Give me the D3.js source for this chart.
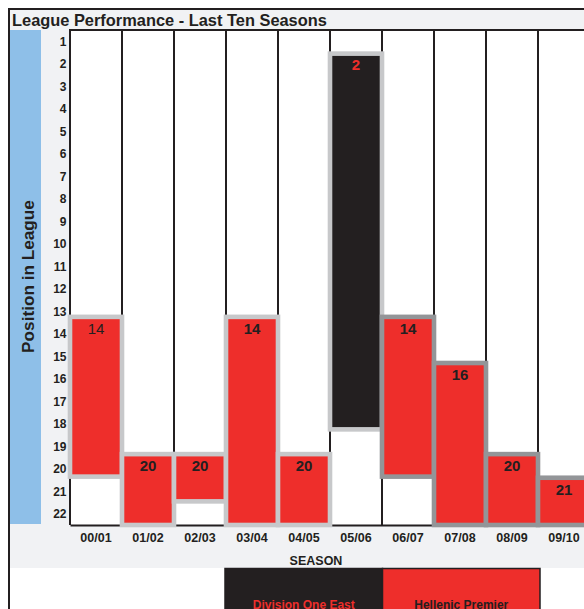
<!DOCTYPE html>
<html>
<head>
<meta charset="utf-8">
<script src="https://cdn.jsdelivr.net/npm/d3@7"></script>
<style>
  html, body { margin: 0; padding: 0; background: #fff; overflow: hidden; }
  svg { display: block; font-family: "Liberation Sans", Arial, sans-serif; }
</style>
</head>
<body>
<svg id="chart" width="584" height="609"></svg>
<script>
// data
const seasons = ["00/01", "01/02", "02/03", "03/04", "04/05", "05/06", "06/07", "07/08", "08/09", "09/10"];
const positions = [14, 20, 20, 14, 20, 2, 14, 16, 20, 21];
const divisions = ["Hellenic Premier", "Hellenic Premier", "Hellenic Premier", "Hellenic Premier", "Hellenic Premier",
  "Division One East", "Hellenic Premier", "Hellenic Premier", "Hellenic Premier", "Hellenic Premier"];
// bar extents, in league position units
const barTops = [13.25, 19.35, 19.35, 13.25, 19.35, 1.55, 13.25, 15.3, 19.35, 20.4];
const barBottoms = [20.35, 22.5, 21.45, 22.5, 22.5, 18.25, 20.35, 22.5, 22.5, 22.5];
const positionTicks = [1, 2, 3, 4, 5, 6, 7, 8, 9, 10, 11, 12, 13, 14, 15, 16, 17, 18, 19, 20, 21, 22];
const legendLabels = ["Division One East", "Hellenic Premier"];

const RED = "#ee2e2b", INK = "#231f20", PANEL = "#f1f2f4";

let svg = d3.select("#chart");
let width = +svg.attr("width");
let height = +svg.attr("height");
let plot = { left: 70, top: 30, right: 590, bottom: 525 };

let data = seasons.map((s, i) => ({
  season: s, position: positions[i], division: divisions[i],
  top: barTops[i], bottom: barBottoms[i], i: i
}));

let x = d3.scaleBand().domain(seasons).range([plot.left, plot.right]).padding(0);
let y = d3.scaleLinear().domain([0.5, 22.5]).range([plot.top, plot.bottom]);
let fill = d3.scaleOrdinal().domain(legendLabels).range([INK, RED]);
let labelFill = d3.scaleOrdinal().domain(legendLabels).range([RED, INK]);

// background panels
svg.append("rect").attr("x", 9).attr("y", 9).attr("width", width).attr("height", 559)
  .attr("fill", PANEL);
svg.append("rect").attr("x", 10).attr("y", plot.top).attr("width", 31).attr("height", 494)
  .attr("fill", "#8ebfe8");
svg.append("rect").attr("x", plot.left).attr("y", plot.top)
  .attr("width", width - plot.left).attr("height", plot.bottom - plot.top)
  .attr("fill", "#fff");

// outer frame
svg.append("path")
  .attr("d", `M9,${height + 5}V9H${width + 5}`)
  .attr("fill", "none").attr("stroke", INK).attr("stroke-width", 2);

svg.append("text")
  .attr("x", 12).attr("y", 26)
  .attr("font-size", 16.4).attr("font-weight", "bold").attr("fill", INK)
  .text("League Performance - Last Ten Seasons");

// column lines
let edges = seasons.map(s => x(s)).concat([plot.right]);
svg.append("g").selectAll("line")
  .data(edges)
  .enter().append("line")
    .attr("x1", d => d).attr("x2", d => d)
    .attr("y1", plot.top).attr("y2", plot.bottom)
    .attr("stroke", INK).attr("stroke-width", 2);
svg.append("line")
  .attr("x1", plot.left - 1).attr("x2", width)
  .attr("y1", plot.top).attr("y2", plot.top)
  .attr("stroke", INK).attr("stroke-width", 2);

// axes
let yAxis = g => g
  .attr("transform", `translate(${plot.left},0)`)
  .call(d3.axisLeft(y).tickValues(positionTicks).tickSize(0).tickPadding(3.5))
  .call(g => g.select(".domain").remove())
  .call(g => g.selectAll("text")
    .attr("font-size", 12).attr("font-weight", "bold").attr("fill", INK)
    .attr("font-family", null));
svg.append("g").call(yAxis);

let xAxis = g => g
  .attr("transform", `translate(0,${plot.bottom})`)
  .call(d3.axisBottom(x).tickSize(0).tickSizeOuter(0).tickPadding(8.6))
  .call(g => g.select(".domain").attr("stroke", INK).attr("stroke-width", 2))
  .call(g => g.selectAll("text")
    .attr("font-size", 12.5).attr("font-weight", "bold").attr("fill", INK)
    .attr("font-family", null));
svg.append("g").call(xAxis);

// bars
svg.append("g").selectAll("rect")
  .data(data)
  .enter().append("rect")
    .attr("x", d => x(d.season))
    .attr("width", x.bandwidth())
    .attr("y", d => y(d.top))
    .attr("height", d => y(d.bottom) - y(d.top))
    .attr("fill", d => fill(d.division))
    .attr("stroke", d => d.i < 6 ? "#c7c8ca" : "#939598")
    .attr("stroke-width", 4.6);

svg.append("g").selectAll("text")
  .data(data)
  .enter().append("text")
    .attr("x", d => x(d.season) + x.bandwidth() / 2)
    .attr("y", d => y(d.top) + 11.5)
    .attr("dy", "0.35em")
    .attr("text-anchor", "middle")
    .attr("font-size", 15)
    .attr("font-weight", d => d.i === 0 ? "normal" : "bold")
    .attr("fill", d => labelFill(d.division))
    .text(d => d.position);

// axis titles
svg.append("text")
  .attr("transform", "translate(33.5,276.5) rotate(-90)")
  .attr("text-anchor", "middle")
  .attr("font-size", 17.2).attr("font-weight", "bold").attr("fill", INK)
  .text("Position in League");

svg.append("text")
  .attr("x", 316).attr("y", 564.5)
  .attr("text-anchor", "middle")
  .attr("font-size", 12.5).attr("font-weight", "bold").attr("fill", INK)
  .text("SEASON");

// legend
let legendX = d3.scaleBand().domain(legendLabels).range([225, 540]);
let legend = svg.append("g").selectAll("g")
  .data(legendLabels)
  .enter().append("g");
legend.append("rect")
  .attr("x", d => legendX(d))
  .attr("y", 568.5)
  .attr("width", legendX.bandwidth())
  .attr("height", 80)
  .attr("fill", d => fill(d))
  .attr("stroke", INK).attr("stroke-width", 1.5);
legend.append("text")
  .attr("x", d => legendX(d) + legendX.bandwidth() / 2)
  .attr("y", 608.5)
  .attr("text-anchor", "middle")
  .attr("font-size", 12).attr("font-weight", "bold")
  .attr("fill", d => labelFill(d))
  .text(d => d);
</script>
</body>
</html>
